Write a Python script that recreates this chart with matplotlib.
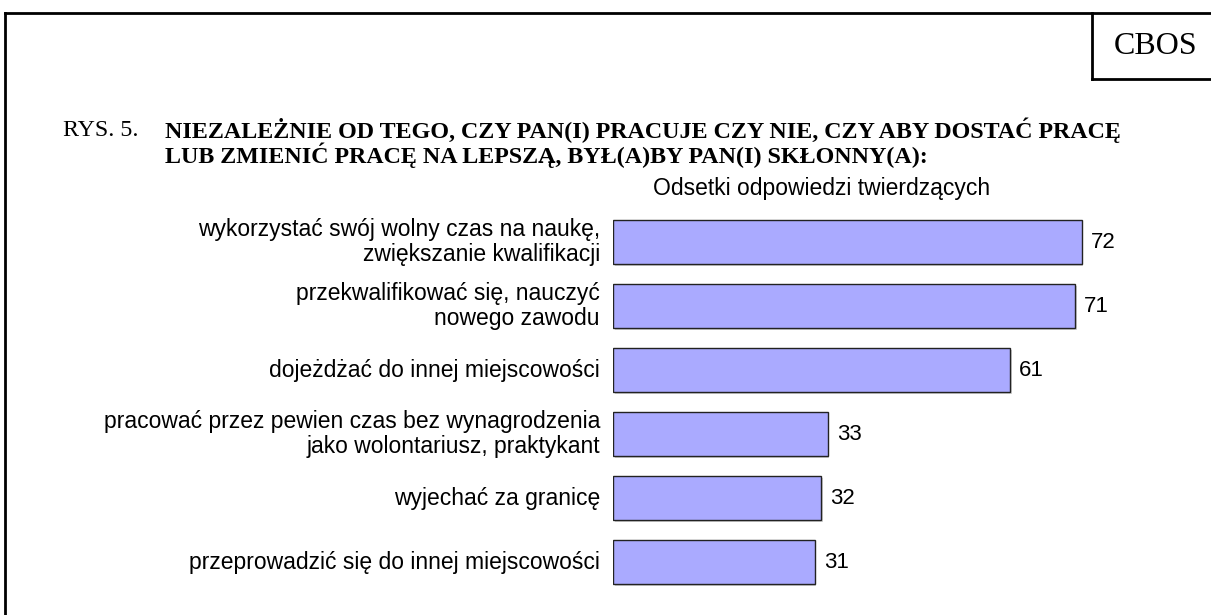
import matplotlib.pyplot as plt
from matplotlib.lines import Line2D

categories = [
    "wykorzystać swój wolny czas na naukę,\nzwiększanie kwalifikacji",
    "przekwalifikować się, nauczyć\nnowego zawodu",
    "dojeżdżać do innej miejscowości",
    "pracować przez pewien czas bez wynagrodzenia\njako wolontariusz, praktykant",
    "wyjechać za granicę",
    "przeprowadzić się do innej miejscowości",
]
values = [72, 71, 61, 33, 32, 31]

W, H = 1211, 615
fig = plt.figure(figsize=(W / 100, H / 100), dpi=100)


def fx(px):
    return px / W


def fy(py):
    return 1 - py / H


# frame lines
lk = dict(color="black", linewidth=2, transform=fig.transFigure)
fig.add_artist(Line2D([fx(5), fx(W)], [fy(13), fy(13)], **lk))
fig.add_artist(Line2D([fx(5), fx(5)], [fy(13), fy(H)], **lk))
fig.add_artist(Line2D([fx(1092), fx(1092)], [fy(13), fy(79)], **lk))
fig.add_artist(Line2D([fx(1092), fx(W)], [fy(79), fy(79)], **lk))
fig.text(fx(1156), fy(46), "CBOS", family="Liberation Serif", fontsize=23,
         ha="center", va="center")

tk = dict(family="Liberation Serif", fontsize=17.3, ha="left", va="center")
fig.text(fx(63), fy(130), "RYS. 5.", **tk)
fig.text(fx(165), fy(130), "NIEZALEŻNIE OD TEGO, CZY PAN(I) PRACUJE CZY NIE, CZY ABY DOSTAĆ PRACĘ",
         weight="bold", **tk)
fig.text(fx(165), fy(155), "LUB ZMIENIĆ PRACĘ NA LEPSZĄ, BYŁ(A)BY PAN(I) SKŁONNY(A):",
         weight="bold", **tk)
fig.text(fx(822), fy(188), "Odsetki odpowiedzi twierdzących", family="Liberation Sans",
         fontsize=16.5, ha="center", va="center")

# axes: x=0 at 613 px, 6.51 px per unit
ax_left, ax_right = 613, 1180
ax_top, ax_bot = 210, 594
ax = fig.add_axes([fx(ax_left), fy(ax_bot), fx(ax_right - ax_left), (ax_bot - ax_top) / H])
ax.set_xlim(0, (ax_right - ax_left) / 6.51)
ax.set_ylim(len(values) - 0.5, -0.5)
ax.axis("off")

ypos = list(range(len(values)))
# subtle shadow
ax.barh([y + 0.03 for y in ypos], values, height=0.7, left=0.25, color="#d0d0d0",
        edgecolor="none", zorder=1)
ax.barh(ypos, values, height=0.7, color="#aaaaff", edgecolor="#222222",
        linewidth=1, zorder=2)

for y, v, c in zip(ypos, values, categories):
    ax.text(v + 1.4, y, str(v), family="Liberation Sans", fontsize=16,
            ha="left", va="center")
    ax.text(-2, y, c, family="Liberation Sans", fontsize=16.5, ha="right",
            va="center", multialignment="right", linespacing=1.12)

fig.savefig("out.png", dpi=100)
